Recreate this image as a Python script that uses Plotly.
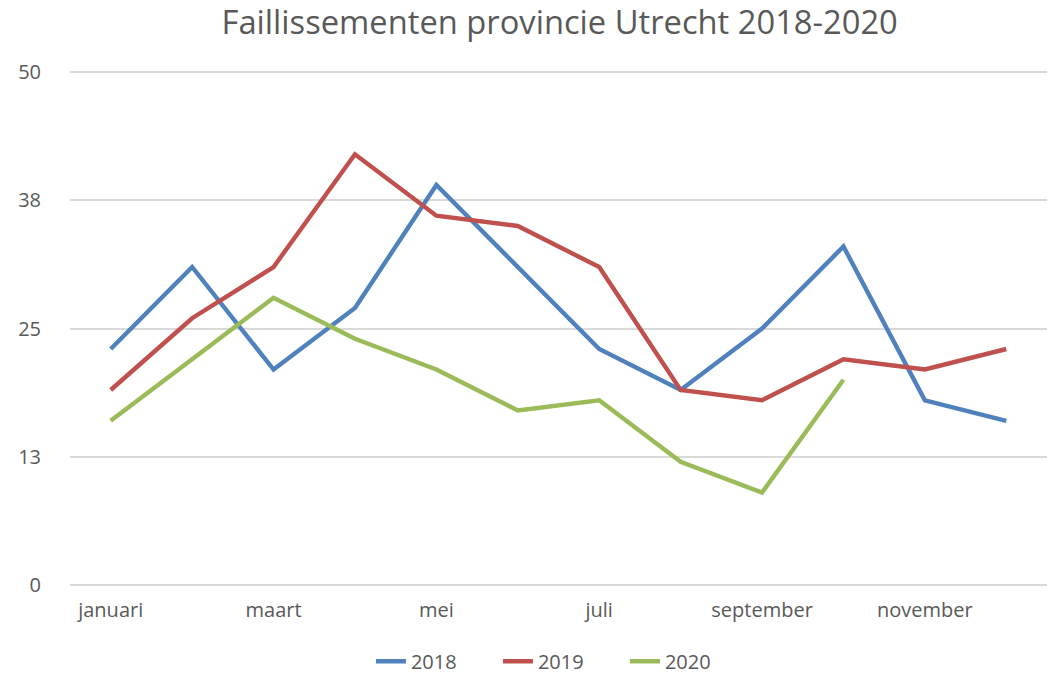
import plotly.graph_objects as go

months = ["januari", "februari", "maart", "april", "mei", "juni", "juli",
          "augustus", "september", "oktober", "november", "december"]
y2018 = [23, 31, 21, 27, 39, 31, 23, 19, 25, 33, 18, 16]
y2019 = [19, 26, 31, 42, 36, 35, 31, 19, 18, 22, 21, 23]
y2020 = [16, 22, 28, 24, 21, 17, 18, 12, 9, 20]

tick_vals_y = [0, 12.5, 25, 37.5, 50]
tick_text_y = ["0", "13", "25", "38", "50"]
x_tick_labels = ["januari", "maart", "mei", "juli", "september", "november"]

series = [("2018", y2018, "#4f81bd"), ("2019", y2019, "#c0504d"), ("2020", y2020, "#9bbb59")]

font_family = "Open Sans, Lato, sans-serif"
text_col = "#595959"

fig = go.Figure()
for name, vals, col in series:
    fig.add_trace(go.Scatter(
        x=months[:len(vals)], y=vals, mode="lines", name=name,
        line=dict(color=col, width=4.4),
    ))

fig.update_layout(
    width=1054, height=677,
    paper_bgcolor="white", plot_bgcolor="white",
    margin=dict(l=70, r=7, t=71, b=91, autoexpand=False),
    font=dict(family=font_family, color=text_col, size=20),
    title=dict(text="Faillissementen provincie Utrecht 2018-2020",
               x=0.531, xanchor="center", y=0.966, yanchor="middle",
               font=dict(size=32.7, color=text_col, family=font_family)),
    showlegend=True,
    legend=dict(orientation="h", x=0.503, xanchor="center",
                y=-0.146, yanchor="middle",
                font=dict(size=20, color=text_col),
                entrywidth=82, entrywidthmode="pixels",
                traceorder="normal"),
    xaxis=dict(type="category", categoryorder="array", categoryarray=months,
               range=[-0.5, 11.5], showgrid=False, zeroline=False,
               tickmode="array", tickvals=x_tick_labels, ticktext=x_tick_labels,
               ticks="", showline=False, ticklabelstandoff=10,
               tickfont=dict(size=20, color=text_col)),
    yaxis=dict(range=[-0.12, 50.12], tickmode="array", tickvals=tick_vals_y, ticktext=tick_text_y,
               showgrid=True, gridcolor="#d9d9d9", gridwidth=1.6,
               zeroline=False, showline=False, ticks="", ticklabelstandoff=28,
               tickfont=dict(size=20, color=text_col)),
)

fig.write_html("out.html", config={"displayModeBar": False})

with open("out.html", "r", encoding="utf-8") as f:
    html = f.read()
html = html.replace("<body>", '<body style="margin:0;padding:0;overflow:hidden">', 1)
with open("out.html", "w", encoding="utf-8") as f:
    f.write(html)
